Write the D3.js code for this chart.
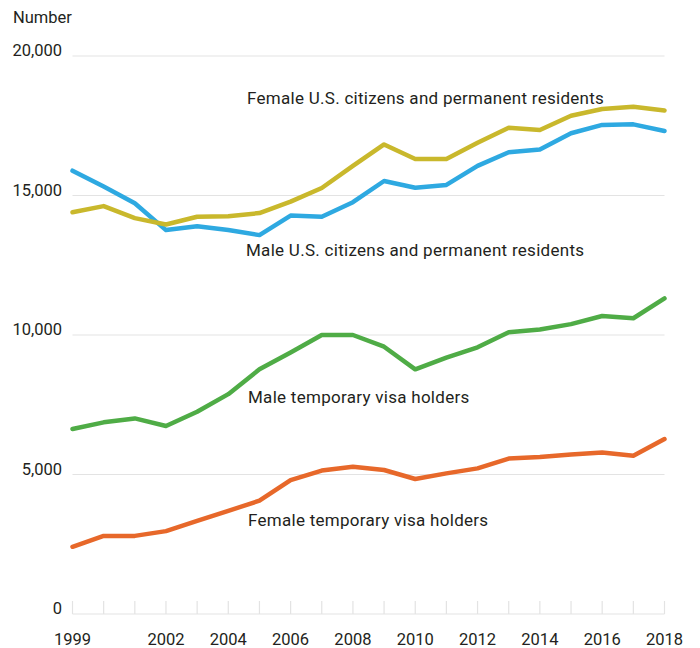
<!DOCTYPE html>
<html>
<head>
<meta charset="utf-8">
<script src="https://cdn.jsdelivr.net/npm/d3@7"></script>
<style>
  body { margin: 0; background: #fff; }
  svg text { font-family: Roboto, "Noto Sans", sans-serif; fill: #231f20; }
</style>
</head>
<body>
<svg id="chart" width="700" height="648"></svg>
<script>
// years on the x axis
var years = d3.range(1999, 2019);
var yearLabels = [1999, 2002, 2004, 2006, 2008, 2010, 2012, 2014, 2016, 2018];
var yTicks = [0, 5000, 10000, 15000, 20000];

// series values
var femaleCitizens = [14400, 14620, 14190, 13960, 14240, 14260, 14370, 14780, 15270, 16060,
                      16830, 16310, 16310, 16890, 17430, 17350, 17860, 18100, 18180, 18050];
var maleCitizens = [15890, 15320, 14720, 13760, 13900, 13760, 13580, 14280, 14240, 14760,
                    15520, 15280, 15380, 16060, 16550, 16650, 17230, 17530, 17550, 17310];
var maleVisa = [6630, 6870, 7010, 6740, 7250, 7880, 8770, 9370, 10000, 10000,
                9580, 8770, 9190, 9560, 10100, 10200, 10390, 10680, 10600, 11310];
var femaleVisa = [2410, 2800, 2800, 2970, 3340, 3700, 4060, 4800, 5140, 5280,
                  5160, 4840, 5040, 5220, 5570, 5630, 5720, 5790, 5670, 6270];

var series = [
  { name: "Female U.S. citizens and permanent residents", values: femaleCitizens, color: "#c9b82c", lx: 247, ly: 104 },
  { name: "Male U.S. citizens and permanent residents", values: maleCitizens, color: "#2ea9e1", lx: 246, ly: 256 },
  { name: "Male temporary visa holders", values: maleVisa, color: "#4fac46", lx: 248, ly: 403 },
  { name: "Female temporary visa holders", values: femaleVisa, color: "#e7682a", lx: 248, ly: 526 }
];

var svg = d3.select("#chart");

var x = d3.scaleLinear().domain([1999, 2018]).range([72.5, 664.5]);
var y = d3.scaleLinear().domain([0, 20000]).range([614, 56]);

// gridlines
svg.append("g").selectAll("line")
  .data(yTicks)
  .enter().append("line")
  .attr("x1", x(1999)).attr("x2", x(2018))
  .attr("y1", function(d) { return y(d); })
  .attr("y2", function(d) { return y(d); })
  .attr("stroke", "#e3e3e3")
  .attr("stroke-width", 1.2);

// y labels
svg.append("g").selectAll("text")
  .data(yTicks)
  .enter().append("text")
  .attr("x", 62)
  .attr("y", function(d) { return y(d); })
  .attr("text-anchor", "end")
  .style("font-size", "16.5px")
  .text(function(d) { return d3.format(",")(d); });

svg.append("text")
  .attr("x", 13).attr("y", 23)
  .style("font-size", "16.5px")
  .text("Number");

// x axis ticks, every year
svg.append("g").selectAll("line")
  .data(years)
  .enter().append("line")
  .attr("x1", function(d) { return x(d); })
  .attr("x2", function(d) { return x(d); })
  .attr("y1", y(0)).attr("y2", y(0) - 13)
  .attr("stroke", "#e3e3e3")
  .attr("stroke-width", 1.2);

svg.append("g").selectAll("text")
  .data(yearLabels)
  .enter().append("text")
  .attr("x", function(d) { return x(d); })
  .attr("y", 645)
  .attr("text-anchor", "middle")
  .style("font-size", "16.5px")
  .text(function(d) { return d; });

var line = d3.line()
  .x(function(d, i) { return x(years[i]); })
  .y(function(d) { return y(d); });

// draw from bottom to top so the yellow sits over the blue like the original
svg.append("g").selectAll("path")
  .data(series.slice().reverse())
  .enter().append("path")
  .attr("d", function(s) { return line(s.values); })
  .attr("fill", "none")
  .attr("stroke", function(s) { return s.color; })
  .attr("stroke-width", 4.5)
  .attr("stroke-linejoin", "round")
  .attr("stroke-linecap", "round");

svg.append("g").selectAll("text")
  .data(series)
  .enter().append("text")
  .attr("x", function(s) { return s.lx; })
  .attr("y", function(s) { return s.ly; })
  .style("font-size", "17px")
  .style("letter-spacing", "0.28px")
  .text(function(s) { return s.name; });
</script>
</body>
</html>
